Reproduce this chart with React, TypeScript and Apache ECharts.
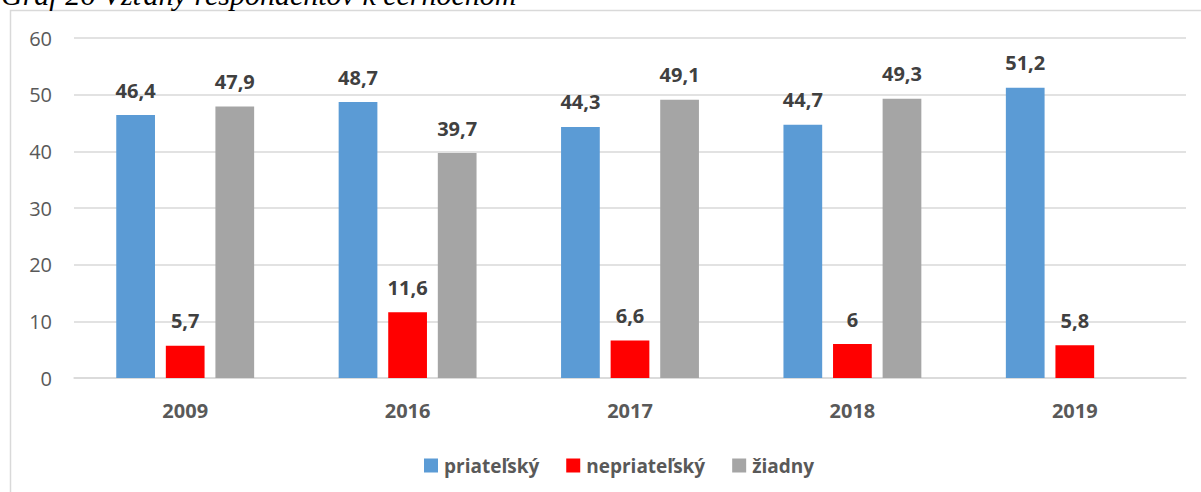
import React, { useEffect, useRef } from "react";
import * as echarts from "echarts";

const categories = ["2009", "2016", "2017", "2018", "2019"];
const friendly = [46.4, 48.7, 44.3, 44.7, 51.2];
const unfriendly = [5.7, 11.6, 6.6, 6, 5.8];
const none: (number | null)[] = [47.9, 39.7, 49.1, 49.3, null];
const seriesNames = ["priateľský", "nepriateľský", "žiadny"];
const titleText = "Graf 26 Vzťahy respondentov k černochom";

const FONT = "'Open Sans', 'Noto Sans', sans-serif";

export default function App() {
  const ref = useRef<HTMLDivElement>(null);
  useEffect(() => {
    if (!ref.current) return;
    const chart = echarts.init(ref.current, undefined, { renderer: "svg" });
    const fmt = (p: any) => String(p.value).replace(".", ",");
    const label = {
      show: true,
      position: "top" as const,
      distance: 15,
      formatter: fmt,
      color: "#404040",
      fontSize: 20,
      fontWeight: "bold" as const,
      fontFamily: FONT,
    };
    chart.setOption({
      animation: false,
      backgroundColor: "#ffffff",
      textStyle: { fontFamily: FONT },
      graphic: [
        {
          type: "rect",
          silent: true,
          shape: { x: 10.5, y: 10.5, width: 1400, height: 800 },
          style: { fill: "none", stroke: "#d9d9d9", lineWidth: 1.5 },
        },
        {
          type: "text",
          x: 1,
          y: 9,
          style: {
            text: titleText,
            font: "italic 30px 'Liberation Serif', serif",
            fill: "#000000",
            verticalAlign: "bottom",
          },
        },
      ],
      grid: { left: 74, right: 15, top: 38, bottom: 114, containLabel: false },
      legend: {
        data: seriesNames,
        top: 451,
        left: 419,
        itemWidth: 14,
        itemHeight: 14,
        itemGap: 27,
        icon: "rect",
        textStyle: { color: "#595959", fontSize: 19, fontWeight: "bold", fontFamily: FONT, padding: [0, 0, 0, 1] },
      },
      xAxis: {
        type: "category",
        data: categories,
        axisLine: { lineStyle: { color: "#d9d9d9", width: 1.5 } },
        axisTick: { show: false },
        axisLabel: { color: "#595959", fontSize: 20, fontWeight: "bold", margin: 22, fontFamily: FONT },
      },
      yAxis: {
        type: "value",
        min: 0,
        max: 60,
        interval: 10,
        axisLine: { show: false },
        axisTick: { show: false },
        splitLine: { lineStyle: { color: "#d9d9d9", width: 1.5 } },
        axisLabel: { color: "#595959", fontSize: 20, margin: 22, fontFamily: FONT },
      },
      series: [
        { name: seriesNames[0], type: "bar", data: friendly, itemStyle: { color: "#5b9bd5" }, label, barGap: "28%", barCategoryGap: "38%" },
        { name: seriesNames[1], type: "bar", data: unfriendly, itemStyle: { color: "#ff0000" }, label },
        { name: seriesNames[2], type: "bar", data: none, itemStyle: { color: "#a5a5a5" }, label },
      ],
    });
    return () => chart.dispose();
  }, []);
  return (
    <div
      ref={ref}
      style={{ position: "fixed", left: 0, top: 0, width: 1201, height: 492, background: "#fff" }}
    />
  );
}
